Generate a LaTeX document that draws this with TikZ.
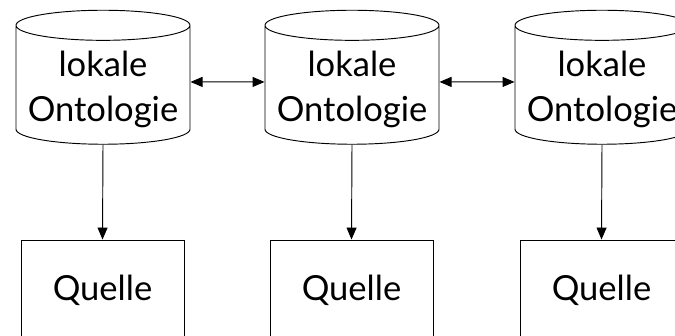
\documentclass[tikz,border=0pt]{standalone}
\usepackage{fontspec}
\setmainfont{Lato}
\usetikzlibrary{shapes.geometric}
\usetikzlibrary{arrows.meta}

\tikzset{
    onto/.style={cylinder, draw, shape border rotate=90, aspect=0.2,
        minimum width=52.2mm, minimum height=40.2mm, inner sep=0pt,
        align=center, line width=0.8pt},
    quelle/.style={rectangle, draw, minimum width=48.9mm, minimum height=30mm,
        line width=0.8pt},
    pfeil/.style={-{Triangle[length=3.6mm, width=3mm]}, line width=0.8pt},
    doppelpfeil/.style={{Triangle[length=3.6mm, width=3mm]}-{Triangle[length=3.6mm, width=3mm]}, line width=0.8pt},
}

% Strut, damit der Text etwas tiefer sitzt
\newcommand{\oben}{\rule{0pt}{29pt}}

\begin{document}
\begin{tikzpicture}[x=0.3mm, y=-0.3mm,
    font=\fontsize{29.5pt}{38pt}\selectfont]

    \useasboundingbox (0, 0) rectangle (675, 335);

    % lokale Ontologien
    \node[onto] (o1) at (103, 85) {\oben lokale\\Ontologie};
    \node[onto] (o2) at (352, 85) {\oben lokale\\Ontologie};
    \node[onto] (o3) at (602, 85) {\oben lokale\\Ontologie};

    % Quellen
    \node[quelle] (q1) at (102.5, 290) {Quelle};
    \node[quelle] (q2) at (351.5, 290) {Quelle};
    \node[quelle] (q3) at (601.5, 290) {Quelle};

    \draw [doppelpfeil] (o1.2) -- (o2.178);
    \draw [doppelpfeil] (o2.2) -- (o3.178);

    \draw [pfeil] (o1.south) -- (q1.north);
    \draw [pfeil] (o2.south) -- (q2.north);
    \draw [pfeil] (o3.south) -- (q3.north);

\end{tikzpicture}
\end{document}
